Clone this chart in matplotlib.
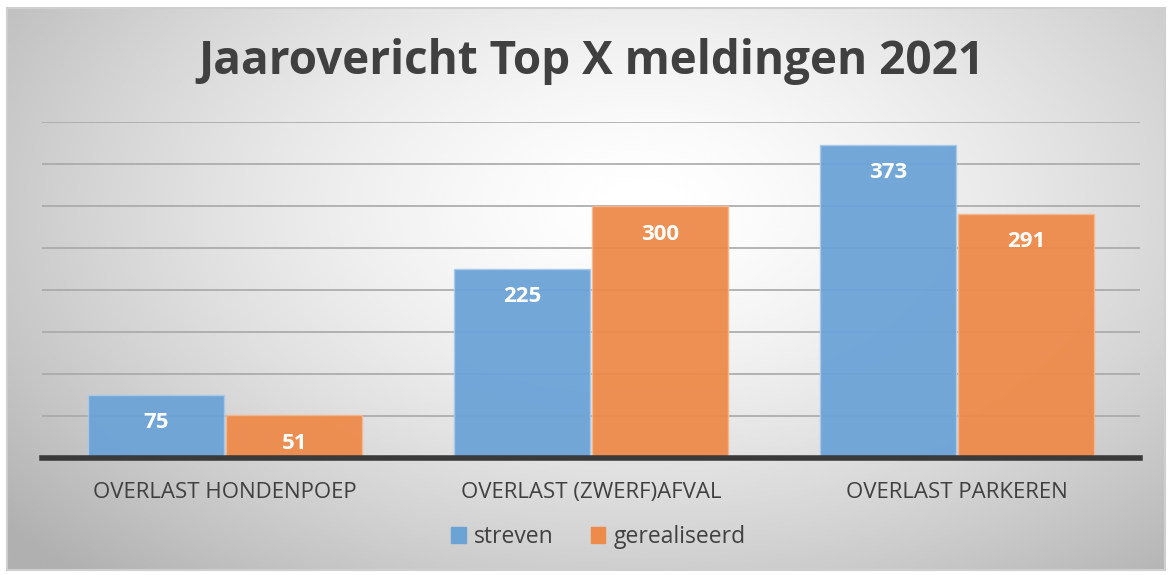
import numpy as np
import matplotlib.pyplot as plt
from matplotlib.patches import Rectangle

categories = ['OVERLAST HONDENPOEP', 'OVERLAST (ZWERF)AFVAL', 'OVERLAST PARKEREN']
streven = [75, 225, 373]
gerealiseerd = [51, 300, 291]
title = 'Jaarovericht Top X meldingen 2021'

blue = '#6CA3D7'
orange = '#EE8A4A'
txt = '#404040'

plt.rcParams['font.family'] = ['Open Sans', 'DejaVu Sans']

fig = plt.figure(figsize=(11.71, 5.75), dpi=100)

# radial grey gradient background inside a light frame
bg = fig.add_axes([7/1171, 5/575, 1158/1171, 562/575])
yy, xx = np.mgrid[0:1:300j, 0:1:600j]
r = np.sqrt(((xx - 0.55) / 0.72) ** 2 + ((yy - 0.65) / 0.9) ** 2)
shade = 1.0 - 0.31 * np.clip(r, 0, 1.0) ** 1.5
bg.imshow(shade, cmap='gray', vmin=0, vmax=1, aspect='auto',
          extent=[0, 1, 0, 1], origin='lower', interpolation='bicubic')
bg.set_xlim(0, 1)
bg.set_ylim(0, 1)
bg.set_xticks([])
bg.set_yticks([])
for s in bg.spines.values():
    s.set_color('#cfcfcf')
    s.set_linewidth(1.5)

ax = fig.add_axes([42/1171, 117/575, 1098/1171, 336/575])
ax.patch.set_alpha(0)
x = np.arange(len(categories))
w = 0.372
b1 = ax.bar(x - w/2 - 0.003, streven, w, color=blue, edgecolor='#a9c9ea',
            linewidth=1, alpha=0.95, zorder=2, label='streven')
b2 = ax.bar(x + w/2 + 0.003, gerealiseerd, w, color=orange, edgecolor='#f5b88f',
            linewidth=1, alpha=0.95, zorder=2, label='gerealiseerd')

for bars in (b1, b2):
    for rect in bars:
        ax.annotate(str(int(rect.get_height())),
                    (rect.get_x() + rect.get_width()/2, rect.get_height()),
                    xytext=(0, -28), textcoords='offset pixels',
                    ha='center', va='center', color='white',
                    fontsize=16, fontweight='bold', zorder=4)

ax.set_xlim(-0.5, 2.5)
ax.set_ylim(0, 400)
ax.set_yticks(np.arange(50, 401, 50))
ax.yaxis.grid(True, color='#a8a8a8', linewidth=1.2, zorder=1)
ax.set_axisbelow(True)
ax.tick_params(axis='y', left=False, labelleft=False)
ax.set_xticks(x)
ax.set_xticklabels(categories, fontsize=16, color=txt)
ax.tick_params(axis='x', length=0, pad=17)
for side in ('top', 'left', 'right'):
    ax.spines[side].set_visible(False)
ax.spines['bottom'].set_color('#3a3a3a')
ax.spines['bottom'].set_linewidth(4)
ax.spines['bottom'].set_zorder(3)

fig.text(0.505, 0.893, title, ha='center', va='center', fontsize=33,
         fontweight='bold', color=txt)

handles = [Rectangle((0, 0), 1, 1, color=blue), Rectangle((0, 0), 1, 1, color=orange)]
fig.legend(handles, ['streven', 'gerealiseerd'], loc='center', ncol=2,
           bbox_to_anchor=(0.511, 0.066), frameon=False, fontsize=16.5,
           handlelength=0.65, handleheight=0.65, handletextpad=0.35,
           columnspacing=1.6, labelcolor=txt)

fig.savefig('out.png', dpi=100, facecolor='white')
